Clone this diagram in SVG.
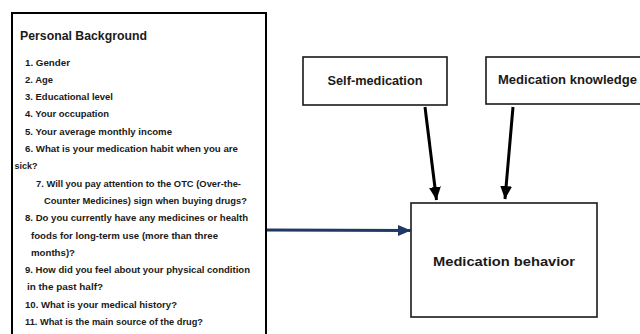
<svg xmlns="http://www.w3.org/2000/svg" width="640" height="334" viewBox="0 0 640 334">
<style>
.box{fill:#fff;stroke:#1a1a1a;stroke-width:1.6}
.bigbox{fill:#fff;stroke:#000;stroke-width:2}
.t{font-family:"Liberation Sans",Arial,sans-serif;font-weight:bold;fill:#1a1a1a}
.item{font-size:9.8px}
.title{font-size:12.8px}
.lbl{font-size:12px}
.lbl2{font-size:13px}
.blk{stroke:#000;stroke-width:3;fill:none}
.blue{stroke:#1f3864;stroke-width:3;fill:none}
</style>
<defs>
<marker id="ah" markerUnits="userSpaceOnUse" markerWidth="14" markerHeight="14" viewBox="0 0 14 14" refX="13" refY="7" orient="auto">
<path d="M0,1 L13,7 L0,13 Z" fill="#000"/>
</marker>
<marker id="ahb" markerUnits="userSpaceOnUse" markerWidth="14" markerHeight="14" viewBox="0 0 14 14" refX="13" refY="7" orient="auto">
<path d="M0,1.5 L13,7 L0,12.5 Z" fill="#1f3864"/>
</marker>
</defs>
<rect width="640" height="334" fill="#fff"/>
<g id="personal-background">
<rect class="bigbox" x="12" y="13" width="254" height="330"/>
<text class="t title" x="20" y="40" textLength="127" lengthAdjust="spacingAndGlyphs">Personal Background</text>
<g class="t item">
<text x="25" y="65.5" textLength="45" lengthAdjust="spacingAndGlyphs">1. Gender</text>
<text x="25" y="82.8" textLength="28" lengthAdjust="spacingAndGlyphs">2. Age</text>
<text x="25" y="100.1" textLength="88" lengthAdjust="spacingAndGlyphs">3. Educational level</text>
<text x="25" y="117.4" textLength="84" lengthAdjust="spacingAndGlyphs">4. Your occupation</text>
<text x="25" y="134.7" textLength="147" lengthAdjust="spacingAndGlyphs">5. Your average monthly income</text>
<text x="25" y="152" textLength="213" lengthAdjust="spacingAndGlyphs">6. What is your medication habit when you are</text>
<text x="14.5" y="169.3" textLength="23" lengthAdjust="spacingAndGlyphs">sick?</text>
<text x="36" y="186.6" textLength="205" lengthAdjust="spacingAndGlyphs">7. Will you pay attention to the OTC (Over-the-</text>
<text x="44" y="203.9" textLength="203" lengthAdjust="spacingAndGlyphs">Counter Medicines) sign when buying drugs?</text>
<text x="25" y="221.2" textLength="223" lengthAdjust="spacingAndGlyphs">8. Do you currently have any medicines or health</text>
<text x="31" y="238.5" textLength="187" lengthAdjust="spacingAndGlyphs">foods for long-term use (more than three</text>
<text x="31" y="255.8" textLength="44" lengthAdjust="spacingAndGlyphs">months)?</text>
<text x="25" y="273.1" textLength="225" lengthAdjust="spacingAndGlyphs">9. How did you feel about your physical condition</text>
<text x="27" y="290.4" textLength="76" lengthAdjust="spacingAndGlyphs">in the past half?</text>
<text x="25" y="307.7" textLength="152" lengthAdjust="spacingAndGlyphs">10. What is your medical history?</text>
<text x="25" y="325" textLength="178" lengthAdjust="spacingAndGlyphs">11. What is the main source of the drug?</text>
</g>
</g>
<g id="self-medication">
<rect class="box" x="303" y="57" width="144" height="48"/>
<text class="t lbl" x="375" y="84.5" text-anchor="middle" textLength="95" lengthAdjust="spacingAndGlyphs">Self-medication</text>
</g>
<g id="medication-knowledge">
<rect class="box" x="486" y="57" width="170" height="47"/>
<text class="t lbl" x="498" y="84" textLength="139" lengthAdjust="spacingAndGlyphs">Medication knowledge</text>
</g>
<g id="medication-behavior">
<rect class="box" x="411" y="203" width="186" height="114"/>
<text class="t lbl2" x="504" y="265.5" text-anchor="middle" textLength="142" lengthAdjust="spacingAndGlyphs">Medication behavior</text>
</g>
<g id="connectors">
<line class="blk" x1="425" y1="107" x2="436.5" y2="200" marker-end="url(#ah)"/>
<line class="blk" x1="513" y1="107" x2="505" y2="199" marker-end="url(#ah)"/>
<line class="blue" x1="267" y1="230" x2="411" y2="230.5" marker-end="url(#ahb)"/>
</g>
</svg>
